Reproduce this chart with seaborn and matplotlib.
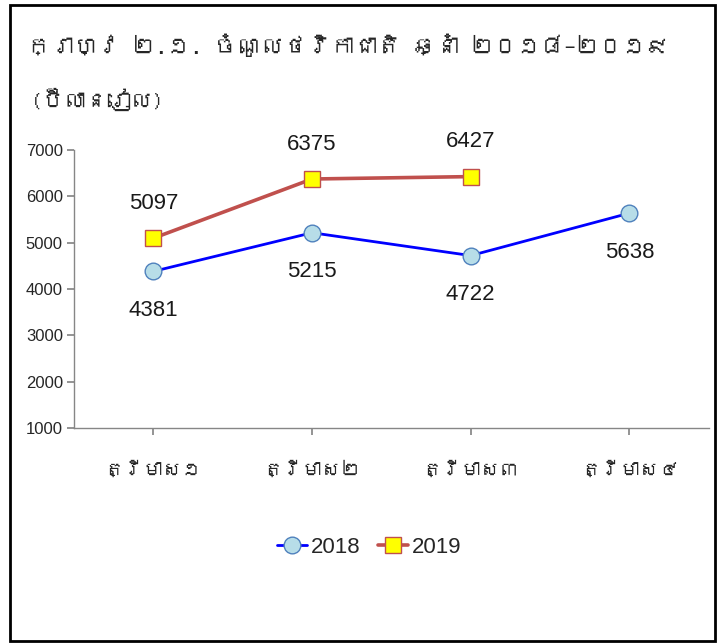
import matplotlib
matplotlib.use("Agg")
import matplotlib.pyplot as plt
from matplotlib import font_manager
from matplotlib.ft2font import FT2Font
from matplotlib.lines import Line2D
import pandas as pd
import seaborn as sns

# ---------------------------
# Data
# ---------------------------
title = "ក្រាហ្វ ២.១. ចំណូលថវិកាជាតិ ឆ្នាំ ២០១៨–២០១៩"
unit_label = "(ប៊ីលានរៀល)"
quarters = ["ត្រីមាស១", "ត្រីមាស២", "ត្រីមាស៣", "ត្រីមាស៤"]
years = ["2018", "2019"]
values_2018 = [4381, 5215, 4722, 5638]
values_2019 = [5097, 6375, 6427, None]
y_ticks = [1000, 2000, 3000, 4000, 5000, 6000, 7000]

# ---------------------------
# Fonts: look for anything that has Khmer glyphs
# ---------------------------
khmer_fonts = []
for f in font_manager.fontManager.ttflist:
    try:
        if 0x1780 in FT2Font(f.fname).get_charmap():
            if f.name not in khmer_fonts:
                khmer_fonts.append(f.name)
    except Exception:
        pass

sns.set_theme(style="white")
num_font = ["Liberation Sans Narrow", "Liberation Sans", "DejaVu Sans"]
khm_font = khmer_fonts + ["Noto Sans", "DejaVu Sans"]
plt.rcParams["font.family"] = num_font

# ---------------------------
# Long-form table
# ---------------------------
df = pd.DataFrame({
    "quarter": quarters * 2,
    "year": [years[0]] * 4 + [years[1]] * 4,
    "value": values_2018 + values_2019,
}).dropna()

fig = plt.figure(figsize=(7.24, 6.44), dpi=100)
ax = fig.add_axes([0.1022, 0.3354, 0.8768, 0.4316])

line_colors = {"2018": "#0000FF", "2019": "#C0504D"}
sns.lineplot(data=df, x="quarter", y="value", hue="year", palette=line_colors,
             sort=False, legend=False, ax=ax)
ax.lines[0].set_linewidth(2.0)
ax.lines[1].set_linewidth(2.6)

# markers drawn on top
sub18 = df[df["year"] == "2018"]
sub19 = df[df["year"] == "2019"]
ax.plot(sub18["quarter"], sub18["value"], linestyle="none", marker="o",
        markersize=12, markerfacecolor="#B7DDE8", markeredgecolor="#4F81BD",
        markeredgewidth=1.0, zorder=5)
ax.plot(sub19["quarter"], sub19["value"], linestyle="none", marker="s",
        markersize=11, markerfacecolor="#FFFF00", markeredgecolor="#C0504D",
        markeredgewidth=1.0, zorder=5)

# data labels
for q, v in zip(sub18["quarter"], sub18["value"]):
    ax.annotate(f"{int(v)}", (q, v), xytext=(0, -28), textcoords="offset points",
                ha="center", va="center", fontsize=16, color="#1a1a1a")
for q, v in zip(sub19["quarter"], sub19["value"]):
    ax.annotate(f"{int(v)}", (q, v), xytext=(0, 25), textcoords="offset points",
                ha="center", va="center", fontsize=16, color="#1a1a1a")

ax.set_xlim(-0.5, 3.5)
ax.set_ylim(1000, 7000)
ax.set_yticks(y_ticks)
ax.set_yticklabels([str(t) for t in y_ticks], fontsize=12)
ax.set_xticks(range(len(quarters)))
ax.set_xticklabels(quarters, fontsize=14, family=khm_font)
ax.set_xlabel("")
ax.set_ylabel("")
for s in ["top", "right"]:
    ax.spines[s].set_visible(False)
for s in ["left", "bottom"]:
    ax.spines[s].set_color("#868686")
    ax.spines[s].set_linewidth(1.0)
ax.tick_params(axis="both", which="major", direction="out", length=5,
               color="#868686", left=True, bottom=True)
ax.tick_params(axis="x", pad=18)
ax.tick_params(axis="y", pad=3)

# title and unit
fig.text(0.037, 0.93, title, fontsize=16.8, family=khm_font, ha="left", va="center")
fig.text(0.042, 0.845, unit_label, fontsize=16, family=khm_font, ha="left", va="center")

# legend
handles = [
    Line2D([], [], color="#0000FF", lw=2.0, marker="o", markersize=12,
           markerfacecolor="#B7DDE8", markeredgecolor="#4F81BD"),
    Line2D([], [], color="#C0504D", lw=2.6, marker="s", markersize=11,
           markerfacecolor="#FFFF00", markeredgecolor="#C0504D"),
]
fig.legend(handles, years, loc="center", bbox_to_anchor=(0.51, 0.15), ncol=2,
           frameon=False, fontsize=16, handlelength=1.35, handletextpad=0.15,
           columnspacing=0.8)

# outer frame
fig.patches.append(plt.Rectangle((0.0138, 0.0047), 0.9738, 0.9876, transform=fig.transFigure,
                                 fill=False, edgecolor="black", linewidth=2.0))

fig.savefig("out.png", dpi=100)
